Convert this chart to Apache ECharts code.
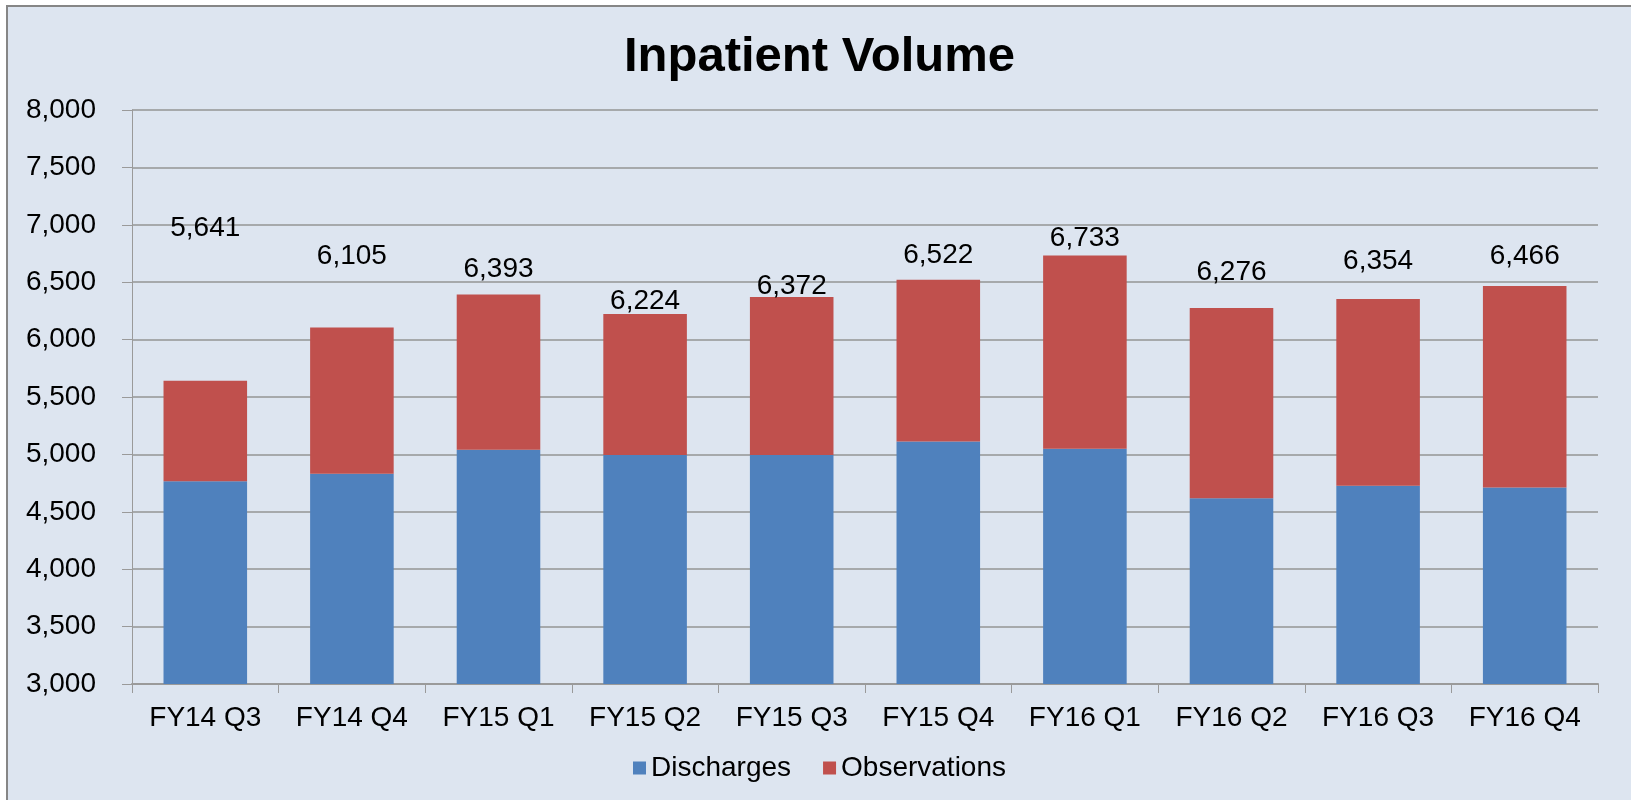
<!DOCTYPE html>
<html>
<head>
<meta charset="utf-8">
<script src="https://cdn.jsdelivr.net/npm/echarts@6/dist/echarts.min.js"></script>
<style>
html, body { margin: 0; padding: 0; background: #fff; }
.frame {
  position: absolute;
  left: 6px;
  top: 5px;
  width: 1625px;
  height: 795px;
  box-sizing: border-box;
  border-top: 2px solid #868686;
  border-left: 2px solid #868686;
  background: #dde5f0;
}
.chart { width: 1623px; height: 793px; }
</style>
</head>
<body>
<div class="frame"><div id="chart" class="chart"></div></div>
<script>
const categories = ['FY14 Q3', 'FY14 Q4', 'FY15 Q1', 'FY15 Q2', 'FY15 Q3', 'FY15 Q4', 'FY16 Q1', 'FY16 Q2', 'FY16 Q3', 'FY16 Q4'];
const discharges = [4767, 4832, 5041, 4994, 4994, 5113, 5050, 4619, 4727, 4712];
const observations = [874, 1273, 1352, 1230, 1378, 1409, 1683, 1657, 1627, 1754];
const totals = [5641, 6105, 6393, 6224, 6372, 6522, 6733, 6276, 6354, 6466];
const yTicks = [3000, 3500, 4000, 4500, 5000, 5500, 6000, 6500, 7000, 7500, 8000];

// how far each total label sits above its bar (px), the labels were hand-placed in the original
const labelLift = [155, 73, 27, 15, 13, 26, 19, 38, 40, 32];

const fontFamily = '"Liberation Sans", Arial, sans-serif';
const fmt = v => v.toLocaleString('en-US');

const chart = echarts.init(document.getElementById('chart'));

const option = {
  backgroundColor: 'transparent',
  animation: false,
  title: {
    text: 'Inpatient Volume',
    left: 'center',
    top: 21,
    textStyle: {
      fontFamily,
      fontSize: 49,
      fontWeight: 'bold',
      color: '#000'
    }
  },
  legend: {
    bottom: 13,
    left: 'center',
    icon: 'rect',
    itemWidth: 13,
    itemHeight: 13,
    itemGap: 32,
    textStyle: {
      fontFamily,
      fontSize: 28,
      color: '#000'
    },
    data: ['Discharges', 'Observations']
  },
  grid: {
    left: 124,
    right: 33,
    top: 103,
    bottom: 116
  },
  xAxis: {
    type: 'category',
    data: categories,
    axisLine: { lineStyle: { color: '#9a9a9a', width: 2 } },
    axisTick: { show: true, length: 9, lineStyle: { color: '#9a9a9a', width: 1 } },
    axisLabel: {
      margin: 20,
      fontFamily,
      fontSize: 28,
      color: '#000'
    }
  },
  yAxis: {
    type: 'value',
    min: yTicks[0],
    max: yTicks[yTicks.length - 1],
    interval: 500,
    axisLine: { show: true, lineStyle: { color: '#9a9a9a', width: 1 } },
    axisTick: { show: true, length: 10, lineStyle: { color: '#9a9a9a' } },
    axisLabel: {
      margin: 36,
      fontFamily,
      fontSize: 28,
      color: '#000',
      formatter: v => fmt(v)
    },
    splitLine: { lineStyle: { color: '#a6a9ab', width: 2 } }
  },
  series: [
    {
      name: 'Discharges',
      type: 'bar',
      stack: 'volume',
      barCategoryGap: '43%',
      itemStyle: { color: '#4f81bd' },
      data: discharges
    },
    {
      name: 'Observations',
      type: 'bar',
      stack: 'volume',
      barCategoryGap: '43%',
      itemStyle: { color: '#c0504d' },
      data: observations.map((v, i) => ({
        value: v,
        label: {
          show: true,
          position: 'top',
          distance: 0,
          offset: [0, -(labelLift[i] - 16)],
          formatter: () => fmt(totals[i]),
          fontFamily,
          fontSize: 28,
          color: '#000'
        }
      }))
    }
  ]
};

chart.setOption(option);
</script>
</body>
</html>
